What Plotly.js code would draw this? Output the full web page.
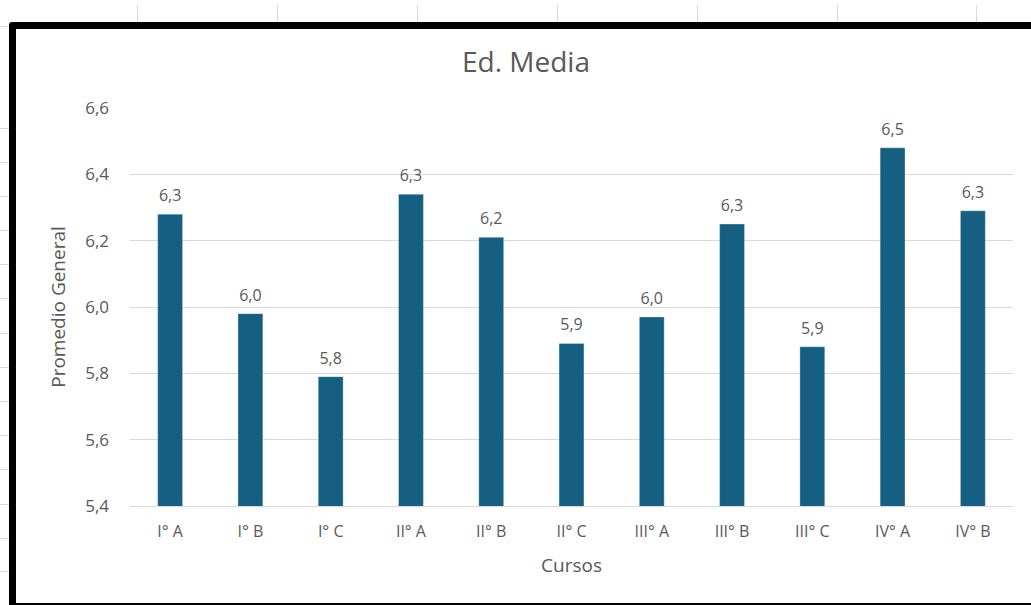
<!DOCTYPE html>
<html>
<head>
<meta charset="utf-8">
<script src="https://cdn.plot.ly/plotly-3.0.1.min.js"></script>
<style>
  html, body { margin: 0; padding: 0; width: 1031px; height: 605px; overflow: hidden; background: #ffffff; }
  .vl { position: absolute; width: 1px; background: #d9d9d9; top: 5px; height: 17px; }
  .hl { position: absolute; height: 1px; background: #d9d9d9; left: 0; width: 10px; }
  #frame { position: absolute; left: 9px; top: 22px; border: 7px solid #000; border-radius: 3px; width: 1020px; height: 574px; background: #fff; }
  #chart { width: 1020px; height: 574px; }
</style>
</head>
<body>
<div id="sheet"></div>
<div id="frame"><div id="chart"></div></div>
<script>
// Data
const cursos = ["I° A", "I° B", "I° C", "II° A", "II° B", "II° C", "III° A", "III° B", "III° C", "IV° A", "IV° B"];
const promedios = [6.28, 5.98, 5.79, 6.34, 6.21, 5.89, 5.97, 6.25, 5.88, 6.48, 6.29];
const yTickVals = [5.4, 5.6, 5.8, 6.0, 6.2, 6.4, 6.6];
const titulo = "Ed. Media";
const tituloX = "Cursos";
const tituloY = "Promedio General";

// spreadsheet background lines (decoration)
const sheet = document.getElementById('sheet');
[137, 277, 417, 557, 697, 837, 976].forEach(x => {
  const d = document.createElement('div'); d.className = 'vl'; d.style.left = x + 'px'; sheet.appendChild(d);
});
[26, 128, 162, 196, 230, 264, 298, 333, 367, 401, 435, 469, 504, 538, 571].forEach(y => {
  const d = document.createElement('div'); d.className = 'hl'; d.style.top = y + 'px'; sheet.appendChild(d);
});

const fontFam = "'Open Sans', Roboto, 'Liberation Sans', Arial, sans-serif";
const grey = "#595959";
const fmt = v => v.toFixed(1).replace('.', ',');

const bars = {
  type: 'bar',
  x: cursos,
  y: promedios,
  marker: { color: '#156082', line: { color: 'rgba(255,255,255,0.6)', width: 0.5 } },
  hoverinfo: 'x+y'
};

const labels = {
  type: 'scatter',
  mode: 'markers+text',
  x: cursos,
  y: promedios,
  text: promedios.map(fmt),
  textposition: 'top center',
  marker: { size: 13, color: 'rgba(0,0,0,0)' },
  textfont: { family: fontFam, size: 16, color: grey },
  cliponaxis: false,
  hoverinfo: 'skip'
};

const layout = {
  width: 1020,
  height: 574,
  margin: { l: 114, r: 23, t: 79, b: 97 },
  paper_bgcolor: '#ffffff',
  plot_bgcolor: '#ffffff',
  separators: ',.',
  bargap: 0.69,
  showlegend: false,
  font: { family: fontFam, color: grey },
  title: {
    text: titulo,
    font: { family: fontFam, size: 28, color: grey },
    x: 0.5, xanchor: 'center', xref: 'container',
    y: 1 - 33 / 574, yanchor: 'middle', yref: 'container'
  },
  xaxis: {
    type: 'category',
    range: [-0.5, cursos.length - 0.5],
    showgrid: false,
    showline: true,
    linecolor: '#d9d9d9',
    linewidth: 1,
    ticks: '',
    tickfont: { family: fontFam, size: 16, color: grey },
    ticklabelstandoff: 11,
    title: { text: tituloX, font: { family: fontFam, size: 19, color: grey }, standoff: 17 },
    fixedrange: true
  },
  yaxis: {
    range: [5.4, 6.6],
    tickvals: yTickVals,
    ticktext: yTickVals.map(fmt),
    showgrid: true,
    gridcolor: '#d9d9d9',
    gridwidth: 1,
    zeroline: false,
    showline: false,
    ticks: '',
    tickfont: { family: fontFam, size: 17, color: grey },
    ticklabelstandoff: 20,
    title: { text: tituloY, font: { family: fontFam, size: 19, color: grey }, standoff: 14 },
    fixedrange: true
  }
};

Plotly.newPlot('chart', [bars, labels], layout, { displayModeBar: false, staticPlot: true });
</script>
</body>
</html>
